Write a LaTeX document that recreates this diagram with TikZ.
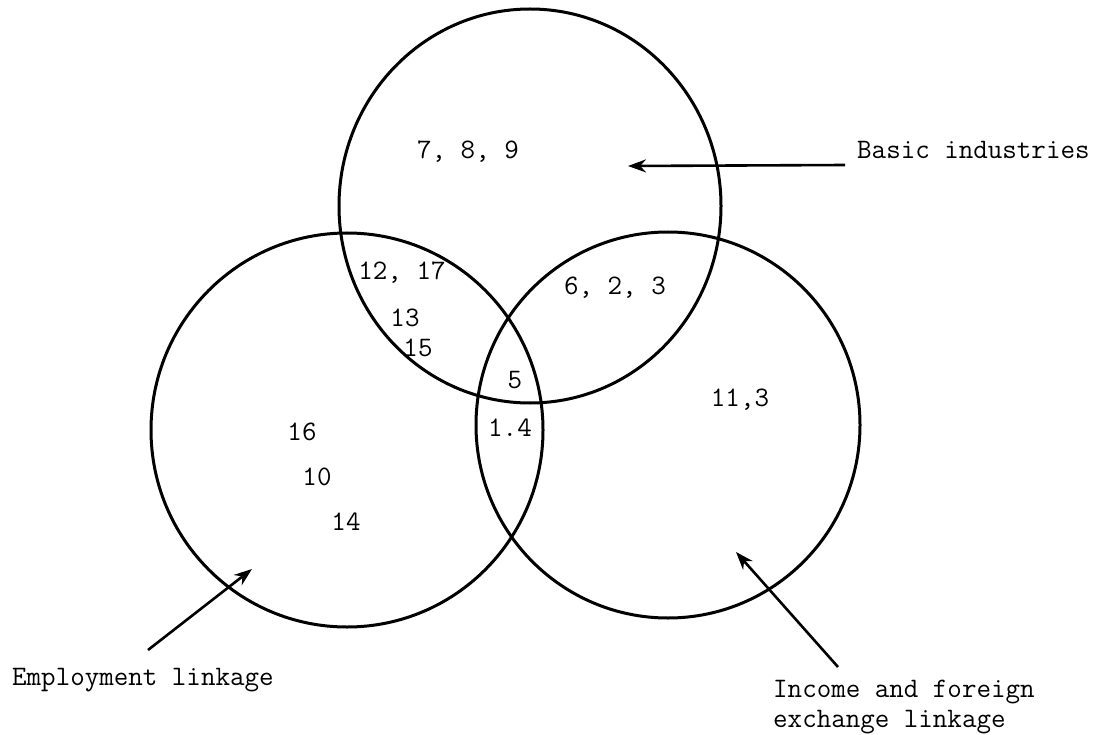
\documentclass[tikz,border=0pt]{standalone}
\usepackage{fontspec}
\usetikzlibrary{shapes.geometric,arrows.meta}
\begin{document}
\begin{tikzpicture}[x=1pt,y=-1pt,
  setring/.style={ellipse,draw,line width=3pt,inner sep=0pt},
  num/.style={font=\fontsize{28.2}{30}\ttfamily\selectfont,inner sep=0pt},
  lbl/.style={font=\fontsize{28.2}{30}\ttfamily\selectfont,inner sep=0pt,anchor=base west},
  pointer/.style={line width=2.6pt,-{Stealth[length=18pt,width=13pt]}}]
\useasboundingbox (0,0) rectangle (1099,735);

% the three sets
\node[setring,minimum width=382pt,minimum height=394pt] (basic) at (530,206) {};
\node[setring,minimum width=392pt,minimum height=394pt] (employ) at (347,430) {};
\node[setring,minimum width=384pt,minimum height=386pt] (income) at (668,425) {};

% members of each region
\node[num] (n789) at (468,152) {7, 8, 9};
\node[num] (n1217) at (402,273) {12, 17};
\node[num] (n13) at (405,318) {13};
\node[num] (n15) at (418,348) {15};
\node[num] (n5) at (515,380) {5};
\node[num] (n14a) at (510,428) {1.4};
\node[num] (n623) at (615,288) {6, 2, 3};
\node[num] (n113) at (740,400) {11,3};
\node[num] (n16) at (302,432) {16};
\node[num] (n10) at (317,477) {10};
\node[num] (n14) at (346,522) {14};

% captions
\node[lbl] (capbasic) at (857,159) {Basic industries};
\node[lbl] (capemploy) at (12,685) {Employment linkage};
\node[lbl] (capincome) at (773,697) {Income and foreign};
\node[lbl] (capincome2) at (773,727) {exchange linkage};

% pointers into the sets
\coordinate (tbasic) at (845,165);
\coordinate (hbasic) at (628,166);
\coordinate (temploy) at (148,650);
\coordinate (hemploy) at (252,569);
\coordinate (tincome) at (838,667);
\coordinate (hincome) at (736,552);
\draw[pointer] (tbasic) -- (hbasic);
\draw[pointer] (temploy) -- (hemploy);
\draw[pointer] (tincome) -- (hincome);
\end{tikzpicture}
\end{document}
